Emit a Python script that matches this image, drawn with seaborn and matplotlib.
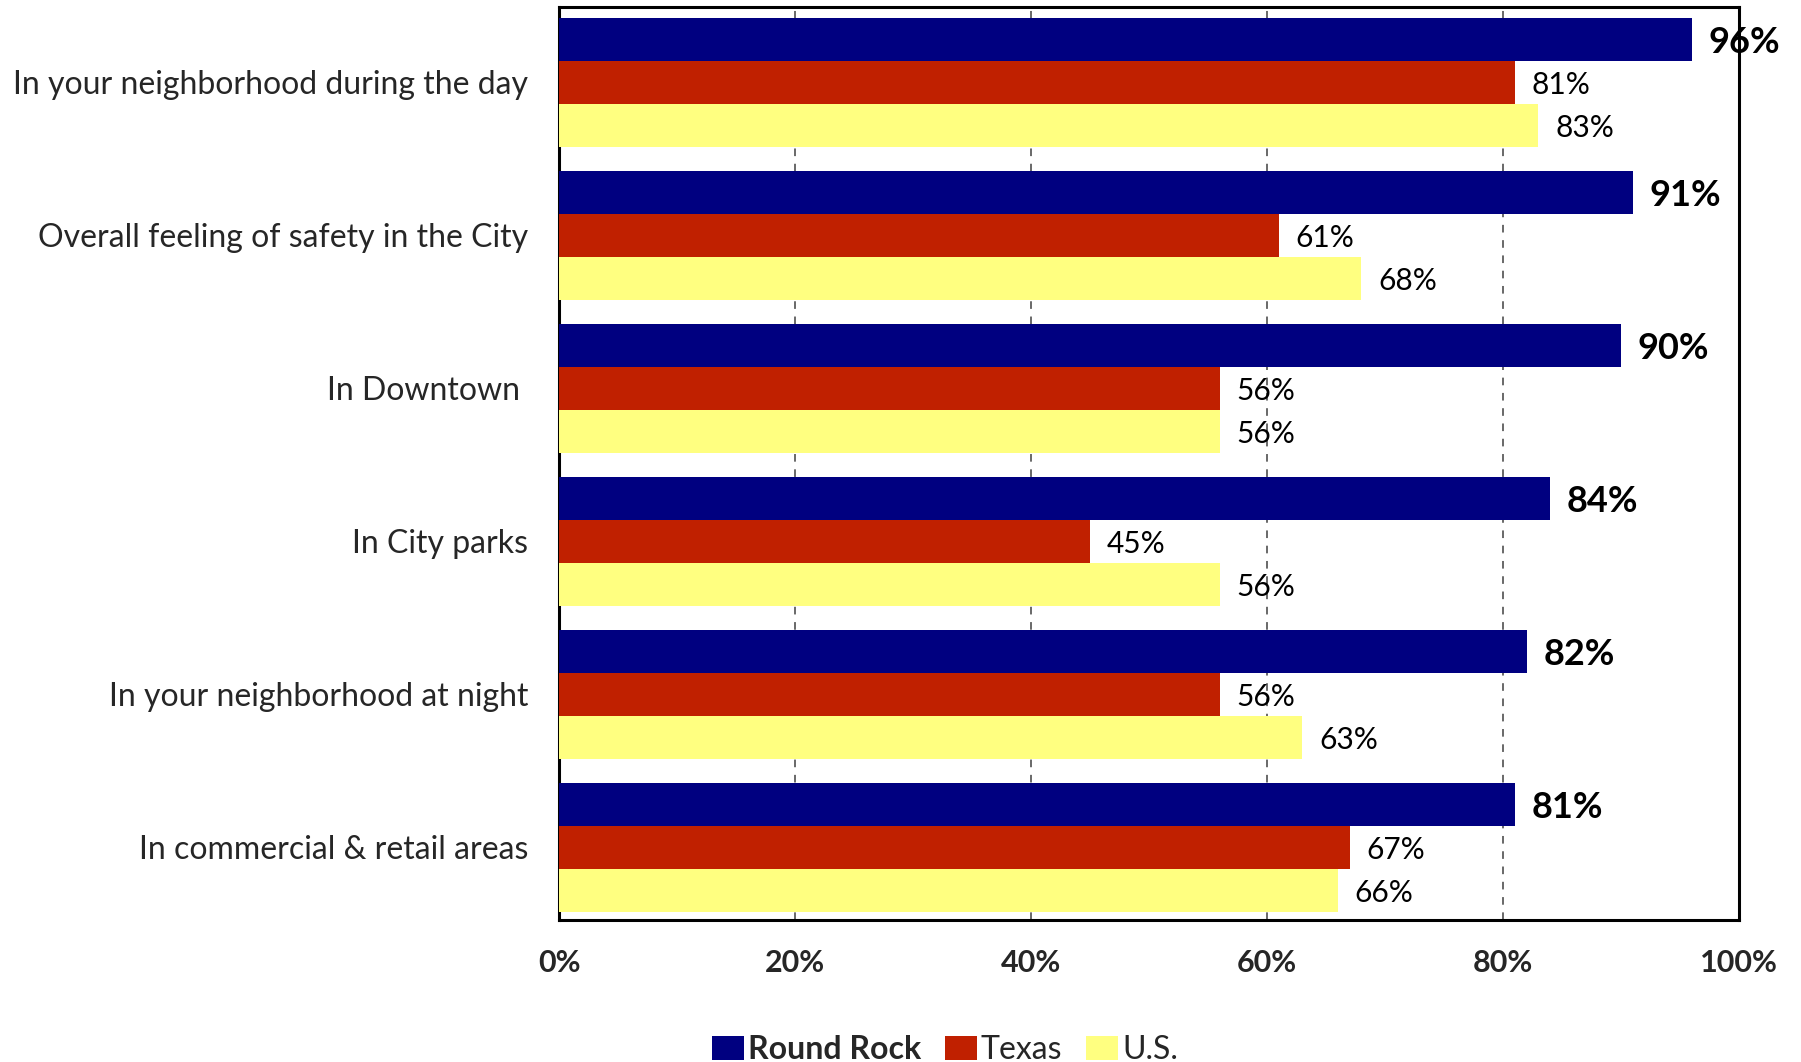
import matplotlib
matplotlib.use("Agg")
import matplotlib.pyplot as plt
from matplotlib.patches import Patch
import seaborn as sns
import pandas as pd

categories = [
    "In your neighborhood during the day",
    "Overall feeling of safety in the City",
    "In Downtown ",
    "In City parks",
    "In your neighborhood at night",
    "In commercial & retail areas",
]
series_names = ["Round Rock", "Texas", "U.S."]
round_rock = [96, 91, 90, 84, 82, 81]
texas = [81, 61, 56, 45, 56, 67]
us = [83, 68, 56, 56, 63, 66]
x_ticks = [0, 20, 40, 60, 80, 100]
x_tick_labels = ["0%", "20%", "40%", "60%", "80%", "100%"]

colors = ["#000080", "#C02000", "#FFFF80"]

rows = []
for name, vals in zip(series_names, [round_rock, texas, us]):
    for cat, v in zip(categories, vals):
        rows.append({"category": cat, "series": name, "value": v})
df = pd.DataFrame(rows)

sns.set_theme(style="white")
plt.rcParams["font.family"] = ["Lato", "DejaVu Sans"]

fig = plt.figure(figsize=(18.01, 10.62), dpi=100)
ax = fig.add_axes([0.3104, 0.1337, 0.9656 - 0.3104, 0.9934 - 0.1337])

sns.barplot(
    data=df, y="category", x="value", hue="series", orient="h",
    order=categories, hue_order=series_names, palette=colors,
    saturation=1, width=0.843, ax=ax, legend=False, zorder=3,
    linewidth=0, edgecolor="none",
)

ax.set_xlim(0, 100)
ax.set_ylim(5.475, -0.493)
ax.set_xticks(x_ticks)
ax.set_xticklabels(x_tick_labels, fontsize=22, fontweight="bold")
ax.tick_params(axis="x", length=0, pad=21)
ax.tick_params(axis="y", length=0, pad=22, labelsize=23)
ax.set_xlabel("")
ax.set_ylabel("")

ax.xaxis.grid(True, linestyle=(0, (5, 5)), color="#404040", linewidth=1.1, zorder=0)
ax.yaxis.grid(False)
ax.set_axisbelow(True)

for s in ax.spines.values():
    s.set_visible(True)
    s.set_color("black")
    s.set_linewidth(2.2)

# value labels at the end of each bar
for i, cont in enumerate(ax.containers):
    bold = i == 0
    texts = ax.bar_label(
        cont, fmt="%d%%", padding=12,
        fontsize=26 if bold else 21.5,
        fontweight="bold" if bold else "normal",
        color="black", clip_on=False,
    )
    for t in texts:
        t.set_va("center_baseline")

handles = [Patch(facecolor=c, edgecolor="none") for c in colors]
leg = fig.legend(
    handles, series_names, loc="center", bbox_to_anchor=(945 / 1801, 1 - 1050 / 1062),
    ncol=3, frameon=False, fontsize=23, handlelength=1.0, handleheight=0.8,
    handletextpad=0.12, columnspacing=0.75,
)
leg.get_texts()[0].set_fontweight("bold")

fig.savefig("out.png", dpi=100)
